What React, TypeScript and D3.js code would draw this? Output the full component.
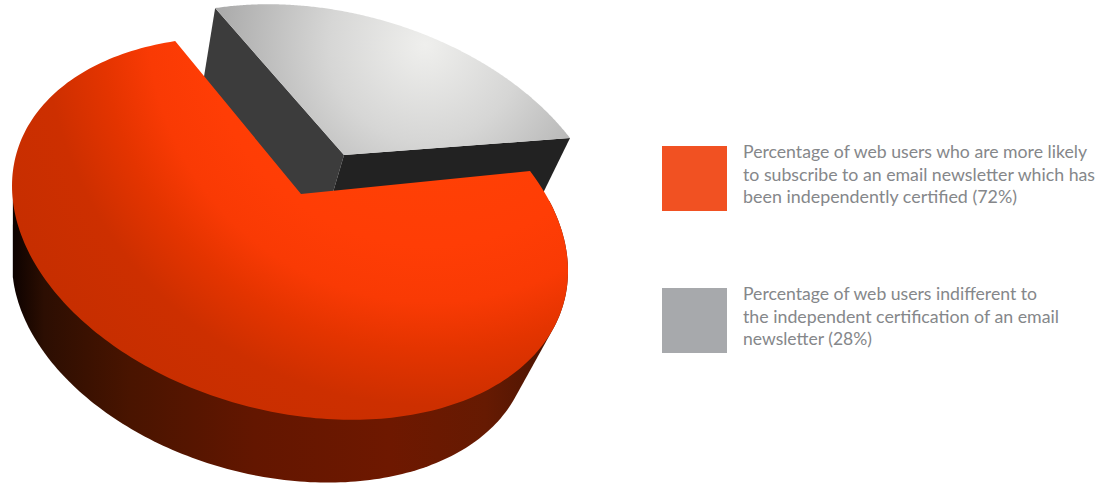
import React from "react";
import * as d3 from "d3";

// Survey shares drawn as the pie slices, in percent
const sliceNames = ["certified", "indifferent"];
const sliceValues = [72, 28];

// Legend copy, one inner list per entry
const legendLines = [
  ["Percentage of web users who are more likely", "to subscribe to an email newsletter which has", "been independently certified (72%)"],
  ["Percentage of web users indifferent to", "the independent certification of an email", "newsletter (28%)"],
];
const legendColors = ["#f15122", "#a7a9ac"];

type Pt = [number, number];

const deg = Math.PI / 180;

// Tilted ellipse of the disc's top face, walked by its parameter t
const faceRim = (t: number): Pt => [
  290 + 278 * Math.cos(t),
  228.5 + 42.5 * Math.cos(t) + 186.5 * Math.sin(t),
];

// Where the cut edges meet the rim, as ellipse parameters
const cutRight = -30.3 * deg;
const cutLeft = -114.4 * deg;

const pie = d3.pie<number>().sort(null);
const arcs = pie(sliceValues);

// Pie angles are laid along the foreshortened rim, slice by slice
const rimParam = d3
  .scaleLinear()
  .domain([arcs[0].startAngle, arcs[0].endAngle, arcs[1].endAngle])
  .range([cutRight, cutLeft + 2 * Math.PI, cutRight + 2 * Math.PI]);

const samples = (a0: number, a1: number) =>
  d3.range(0, 241).map((i) => rimParam(a0 + ((a1 - a0) * i) / 240));

const redApex: Pt = [301, 194];
const greyApex: Pt = [344, 155];
const greyShift: Pt = [40, -33];

// Lower rim of the disc: the top face shrunk and dropped towards the viewer's left
const drop = ([x, y]: Pt): Pt => [12 + 0.93 * (x - 12), 88 + 0.94 * y];

const line = d3.line<Pt>().curve(d3.curveLinear);

const redRim = samples(arcs[0].startAngle, arcs[0].endAngle).map(faceRim);
const greyRim = samples(arcs[1].startAngle, arcs[1].endAngle)
  .map(faceRim)
  .map(([x, y]): Pt => [x + greyShift[0], y + greyShift[1]]);

const redFace = line([redApex, ...redRim]) + "Z";

// The outer wall is the hull of the near part of the rim and its dropped copy,
// which gives the straight silhouette tangents at both ends of the disc
const nearRim = redRim.filter(([, y]) => y > redApex[1] + 6);
const redSide = line(d3.polygonHull([...nearRim, ...nearRim.map(drop)]) as Pt[]) + "Z";
const greyFace = line([greyApex, ...greyRim]) + "Z";

const wall = (p: Pt) => line([greyApex, p, drop(p), drop(greyApex)]) + "Z";

const lineWidths = [[344, 352, 274], [294, 316, 129]];
const lineBaselines = [[158, 181, 203], [300, 323, 345]];
const swatchTops = [146, 288];

export default function App() {
  return (
    <svg
      width={1112}
      height={483}
      viewBox="0 0 1112 483"
      style={{ position: "absolute", left: 0, top: 0, display: "block", background: "#fff" }}
    >
      <defs>
        <radialGradient id="redShade" gradientUnits="userSpaceOnUse" cx={430} cy={20} r={470}>
          <stop offset="0" stopColor="#ff4606" />
          <stop offset="0.48" stopColor="#ff3d05" />
          <stop offset="0.6" stopColor="#f93a04" />
          <stop offset="0.7" stopColor="#e43400" />
          <stop offset="0.82" stopColor="#cd2f00" />
          <stop offset="1" stopColor="#c62e00" />
        </radialGradient>
        <radialGradient id="greyShade" gradientUnits="userSpaceOnUse" cx={425} cy={45} r={215}>
          <stop offset="0" stopColor="#efefed" />
          <stop offset="0.45" stopColor="#d6d6d5" />
          <stop offset="1" stopColor="#a8a8a8" />
        </radialGradient>
        <linearGradient id="sideShade" gradientUnits="userSpaceOnUse" x1={12} y1={0} x2={550} y2={0}>
          <stop offset="0" stopColor="#0c0200" />
          <stop offset="0.06" stopColor="#2c0e02" />
          <stop offset="0.22" stopColor="#491400" />
          <stop offset="0.45" stopColor="#631600" />
          <stop offset="0.7" stopColor="#6e1800" />
          <stop offset="0.88" stopColor="#661a02" />
          <stop offset="1" stopColor="#4c1503" />
        </linearGradient>
      </defs>

      <g data-slice={sliceNames[1]}>
        <path d={wall(greyRim[0])} fill="#3c3c3c" />
        <path d={wall(greyRim[greyRim.length - 1])} fill="#222222" />
        <path d={greyFace} fill="url(#greyShade)" />
      </g>
      <g data-slice={sliceNames[0]}>
        <path d={redSide} fill="url(#sideShade)" />
        <path d={redFace} fill="url(#redShade)" />
      </g>

      {legendLines.map((lines, i) => (
        <g key={i}>
          <rect x={662} y={swatchTops[i]} width={65} height={65} fill={legendColors[i]} />
          {lines.map((t, j) => (
            <text
              key={j}
              x={743}
              y={lineBaselines[i][j]}
              textLength={lineWidths[i][j]}
              lengthAdjust="spacingAndGlyphs"
              fontFamily="Lato, 'Open Sans', sans-serif"
              fontSize={17}
              fill="#85878a"
            >
              {t}
            </text>
          ))}
        </g>
      ))}
    </svg>
  );
}
